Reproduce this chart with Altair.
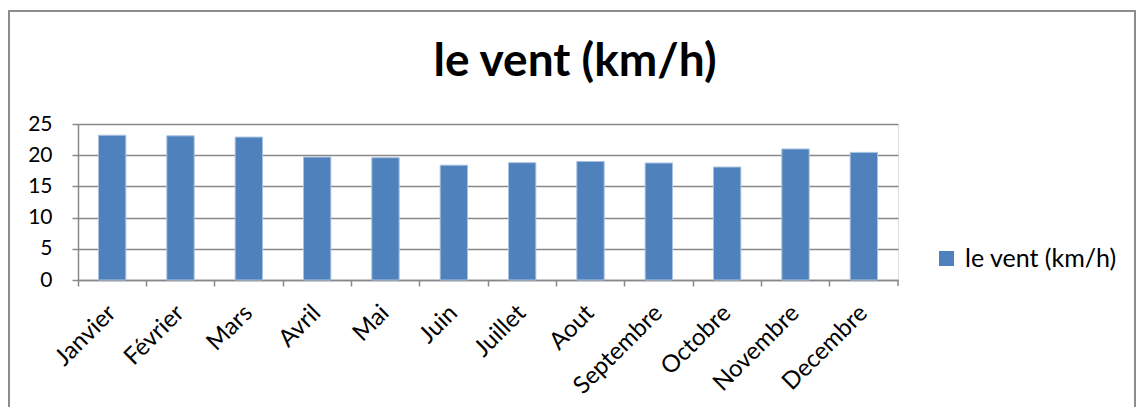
import altair as alt
import pandas as pd

months = ["Janvier", "Février", "Mars", "Avril", "Mai", "Juin", "Juillet",
          "Aout", "Septembre", "Octobre", "Novembre", "Decembre"]
vent = [23.2, 23.1, 22.9, 19.7, 19.6, 18.4, 18.8, 19.0, 18.75, 18.1, 21.0, 20.45]
serie_name = "le vent (km/h)"
chart_title = "le vent (km/h)"
y_ticks = [0, 5, 10, 15, 20, 25]

df = pd.DataFrame({"mois": months, "vent": vent, "serie": [serie_name] * len(months)})

FONT = "Lato"
W, H = 820, 156
GRID = "#888888"

bars = alt.Chart(df).mark_bar(
    width=alt.RelativeBandSize(0.4), stroke="#A9C1E0", strokeWidth=1
).encode(
    x=alt.X("mois:N", sort=months,
            scale=alt.Scale(paddingInner=0, paddingOuter=0),
            axis=alt.Axis(title=None, labelAngle=-45, labelAlign="right",
                          labelBaseline="middle", labelFontSize=24, labelFont=FONT,
                          labelColor="#000000", tickSize=6, bandPosition=0,
                          labelPadding=23,
                          domainColor=GRID, tickColor=GRID, domainWidth=1.5,
                          tickWidth=1.5, grid=False)),
    y=alt.Y("vent:Q", scale=alt.Scale(domain=[0, 25], nice=False),
            axis=alt.Axis(values=y_ticks, title=None, labelFontSize=21,
                          labelFont=FONT, labelColor="#000000", tickSize=6,
                          labelPadding=20, domainColor=GRID, tickColor=GRID,
                          domainWidth=1.5, tickWidth=1.5, gridColor=GRID,
                          gridWidth=1.5, grid=True)),
    color=alt.Color("serie:N", scale=alt.Scale(range=["#4F81BD"]),
                    legend=alt.Legend(title=None, orient="none", legendX=856,
                                      legendY=122, symbolType="square",
                                      symbolSize=225, symbolStrokeWidth=0,
                                      labelFontSize=25, labelFont=FONT,
                                      labelColor="#000000", labelOffset=6,
                                      padding=0)),
)

one = pd.DataFrame({"t": [chart_title]})
end_tick = alt.Chart(one).mark_rule(color=GRID, strokeWidth=1.5).encode(
    x=alt.value(W), y=alt.value(H), y2=alt.value(H + 6)
)
border = alt.Chart(one).mark_rect(fill="white", fillOpacity=0, stroke="#8C8C8C",
                                  strokeWidth=2).encode(
    x=alt.value(-69), x2=alt.value(1057), y=alt.value(-113), y2=alt.value(330)
)
title = alt.Chart(one).mark_text(font=FONT, fontSize=46, fontWeight="bold",
                                 color="#000000", align="center",
                                 baseline="alphabetic").encode(
    text="t:N", x=alt.value(497), y=alt.value(-48)
)

chart = alt.layer(border, title, bars, end_tick).properties(
    width=W, height=H,
    padding={"left": 70, "top": 116, "right": 238, "bottom": 127},
    autosize="none",
).configure_view(stroke=None).configure(background="white")

chart.save("out.html", embed_options={"renderer": "svg", "actions": False})
